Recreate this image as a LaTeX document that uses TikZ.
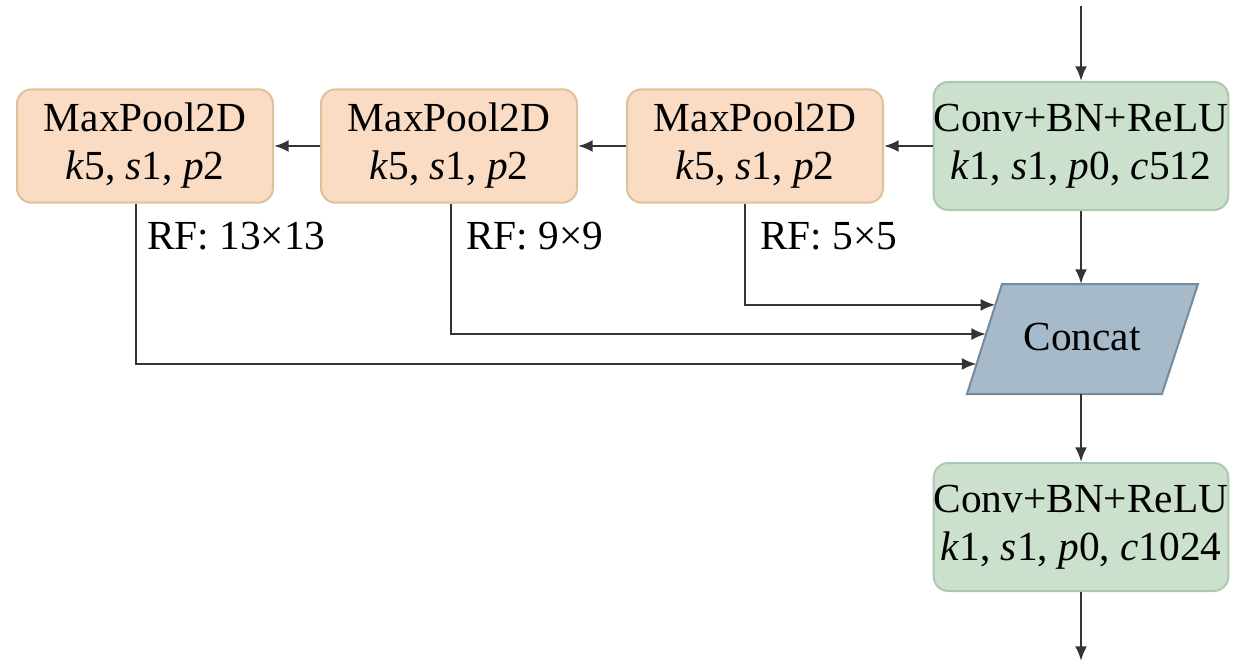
\documentclass[tikz,border=0pt]{standalone}
\usepackage{fontspec}
\setmainfont{Liberation Serif}
\usetikzlibrary{arrows.meta,calc}
\definecolor{poolfill}{RGB}{250,220,196}
\definecolor{pooledge}{RGB}{224,192,152}
\definecolor{convfill}{RGB}{203,225,206}
\definecolor{convedge}{RGB}{172,200,176}
\definecolor{catfill}{RGB}{166,186,201}
\definecolor{catedge}{RGB}{118,138,158}
\definecolor{wire}{RGB}{52,52,52}
\def\arr{\draw[wire,line width=1.8pt,-{Latex[length=11pt,width=9pt]}]}
\def\pooltext{MaxPool2D\\\textit{k}5, \textit{s}1, \textit{p}2}

\begin{document}
\begin{tikzpicture}[x=0.75pt,y=-0.75pt,
    font=\fontsize{31}{36}\selectfont,
    pool/.style={draw=pooledge,line width=1.5pt,fill=poolfill,rounded corners=11pt,
      minimum width=192pt,minimum height=85pt,align=center,inner sep=0pt},
    conv/.style={pool,draw=convedge,fill=convfill,minimum width=212pt,minimum height=96pt},
    rf/.style={anchor=west,inner sep=0pt}]
    \useasboundingbox (0,0) rectangle (1259,663);
    % main column
    \node[conv] (conv1) at (1081,146) {Conv+BN+ReLU\\\textit{k}1, \textit{s}1, \textit{p}0, \textit{c}512};
    \node[conv] (conv2) at (1081,527) {Conv+BN+ReLU\\\textit{k}1, \textit{s}1, \textit{p}0, \textit{c}1024};
    \node[pool] (mp3) at (755,146) {\pooltext};
    \node[pool] (mp2) at (449,146) {\pooltext};
    \node[pool] (mp1) at (145,146) {\pooltext};
    % concat
    \coordinate (ctl) at (1002,284); \coordinate (ctr) at (1198,284);
    \coordinate (cbr) at (1162,394); \coordinate (cbl) at (967,394);
    \filldraw[fill=catfill,draw=catedge,line width=1.5pt] (ctl) -- (ctr) -- (cbr) -- (cbl) -- cycle;
    \node[minimum height=82.5pt] (concat) at (1082,337) {Concat};
    \coordinate (c3) at ($(cbl)!.81!(ctl)$);
    \coordinate (c2) at ($(cbl)!.545!(ctl)$);
    \coordinate (c1) at ($(cbl)!.273!(ctl)$);
    \coordinate (in) at (1081,6);
    \coordinate (out) at (1081,661);
    \node[rf] (rf3) at (760,236) {RF: 5×5};
    \node[rf] (rf2) at (466,236) {RF: 9×9};
    \node[rf] (rf1) at (147,236) {RF: 13×13};
    % arrows
    \arr (in) -- (conv1.north);
    \arr (conv1) -- (mp3);
    \arr (mp3) -- (mp2);
    \arr (mp2) -- (mp1);
    \arr (conv1.south) -- (conv1.south |- ctl);
    \arr ([xshift=-7.5pt]mp3.south) |- (c3);
    \arr ([xshift=1.5pt]mp2.south) |- (c2);
    \arr ([xshift=-6.75pt]mp1.south) |- (c1);
    \arr (conv1.south |- cbl) -- (conv2.north);
    \arr (conv2.south) -- (out);
\end{tikzpicture}
\end{document}
